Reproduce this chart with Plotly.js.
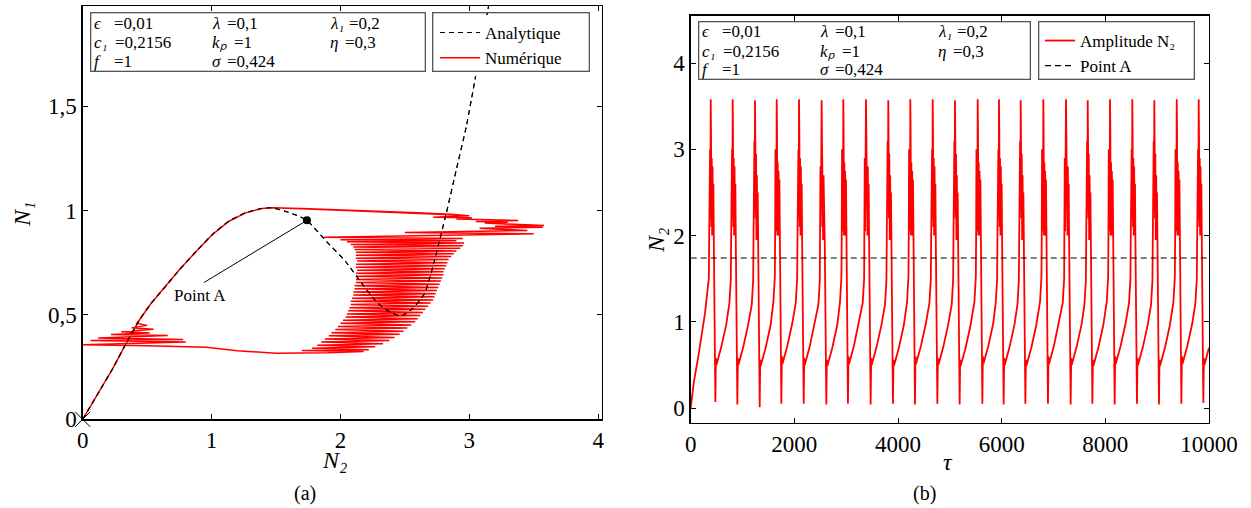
<!DOCTYPE html>
<html>
<head>
<meta charset="utf-8">
<script src="https://cdn.plot.ly/plotly-3.0.1.min.js"></script>
<style>
html,body{margin:0;padding:0;background:#fff;}
#chart{width:1251px;height:508px;}
</style>
</head>
<body>
<div id="chart"></div>
<script>
// ---------- DATA ----------
// (a) analytic curve N1(N2)
const n2Ana = [0, 0.12, 0.234, 0.337, 0.44, 0.53, 0.62, 0.75, 0.88, 1.006, 1.135, 1.264, 1.39, 1.47, 1.57, 1.65, 1.74, 1.88, 2.04, 2.165, 2.29, 2.38, 2.45, 2.49, 2.563, 2.654, 2.718, 2.77, 2.822, 2.899, 2.977, 3.054, 3.15];
const n1Ana = [0, 0.125, 0.244, 0.364, 0.476, 0.555, 0.62, 0.716, 0.804, 0.885, 0.949, 0.989, 1.01, 1.013, 0.997, 0.98, 0.953, 0.86, 0.756, 0.652, 0.556, 0.515, 0.497, 0.5, 0.532, 0.604, 0.732, 0.859, 0.988, 1.195, 1.403, 1.659, 1.98];

// (a) numerical trajectory N1(N2)
const n2Num = [
  0, 0.12, 0.234, 0.337, 0.44, 0.53, 0.62, 0.75, 0.88, 1.006, 1.135, 1.264, 1.39, 1.47,
  1.7, 2.0, 2.3, 2.6, 2.85, 3.0, 2.72, 3.02, 2.9, 3.38, 3.05, 3.3, 3.12, 3.58, 3.2, 3.57, 3.08, 3.45, 2.5, 3.5,
  1.87, 2.95, 2.0, 2.9, 2.05, 2.96, 2.08, 2.95, 2.1, 2.93, 2.11, 2.9, 2.12, 2.88, 2.12, 2.86, 2.12, 2.84, 2.13, 2.83,
  2.12, 2.82, 2.12, 2.81, 2.13, 2.8, 2.12, 2.8, 2.12, 2.79, 2.12, 2.78, 2.12, 2.77, 2.11, 2.76, 2.11, 2.75, 2.1, 2.74,
  2.1, 2.73, 2.09, 2.72, 2.08, 2.7, 2.08, 2.68, 2.07, 2.66, 2.06, 2.64, 2.05, 2.62, 2.04, 2.6, 2.02, 2.58, 2.0, 2.55,
  1.98, 2.52, 1.96, 2.49, 1.93, 2.46, 1.91, 2.42, 1.88, 2.38, 1.85, 2.33, 1.82, 2.27, 1.78, 2.22, 1.7, 2.18,
  1.9, 1.5, 1.2, 0.96, 0.5, 0.0,
  0.8, 0.06, 0.78, 0.12, 0.66, 0.22, 0.52, 0.3, 0.55, 0.38, 0.5, 0.42, 0.44,
  0.53, 0.62, 0.75, 0.88, 1.006, 1.135, 1.264, 1.39, 1.47, 1.8, 2.4, 2.95
];
const n1Num = [
  0, 0.125, 0.244, 0.364, 0.476, 0.555, 0.62, 0.716, 0.804, 0.885, 0.949, 0.989, 1.01, 1.013,
  1.01, 1.004, 0.997, 0.99, 0.982, 0.975, 0.968, 0.965, 0.96, 0.952, 0.948, 0.944, 0.94, 0.928, 0.925, 0.92, 0.915, 0.905, 0.895, 0.889,
  0.872, 0.866, 0.86, 0.855, 0.85, 0.845, 0.838, 0.832, 0.826, 0.82, 0.813, 0.806, 0.8, 0.793, 0.786, 0.78, 0.772, 0.765, 0.758, 0.75,
  0.743, 0.736, 0.729, 0.721, 0.714, 0.707, 0.7, 0.692, 0.685, 0.677, 0.67, 0.662, 0.655, 0.647, 0.64, 0.632, 0.625, 0.617, 0.61, 0.602,
  0.595, 0.587, 0.58, 0.572, 0.565, 0.557, 0.55, 0.542, 0.535, 0.527, 0.52, 0.512, 0.505, 0.497, 0.49, 0.482, 0.475, 0.467, 0.46, 0.452,
  0.445, 0.437, 0.43, 0.422, 0.415, 0.407, 0.4, 0.392, 0.385, 0.377, 0.37, 0.362, 0.355, 0.347, 0.34, 0.333, 0.33, 0.325,
  0.319, 0.317, 0.328, 0.345, 0.352, 0.357,
  0.37, 0.378, 0.382, 0.39, 0.402, 0.406, 0.414, 0.42, 0.432, 0.438, 0.45, 0.46, 0.476,
  0.555, 0.62, 0.716, 0.804, 0.885, 0.949, 0.989, 1.01, 1.013, 1.006, 0.993, 0.978
];

// Point A and the initial point
const pointA_N2 = 1.74, pointA_N1 = 0.953;
const startN2 = [0], startN1 = [0];
const labelA = {n2: 0.913, n1: 0.591, lineN2: 0.94, lineN1: 0.655};

// (b) time series N2(tau)
const tau = [
  0, 60, 147, 276, 330,
  350, 356, 362, 368, 374, 380, 386, 392, 399, 406, 414, 422, 430, 438, 446, 476, 486, 496, 591, 686,
  747, 774, 780, 786, 792, 798, 804, 810, 816, 823, 830, 838, 846, 854, 862, 870, 900, 910, 920, 1015, 1110,
  1178, 1205, 1211, 1217, 1223, 1229, 1235, 1241, 1247, 1254, 1261, 1269, 1277, 1285, 1293, 1301, 1331, 1341, 1351, 1446, 1541,
  1596, 1623, 1629, 1635, 1641, 1647, 1653, 1659, 1665, 1672, 1679, 1687, 1695, 1703, 1711, 1719, 1749, 1759, 1769, 1864, 1959,
  2027, 2054, 2060, 2066, 2072, 2078, 2084, 2090, 2096, 2103, 2110, 2118, 2126, 2134, 2142, 2150, 2180, 2190, 2200, 2295, 2390,
  2464, 2491, 2497, 2503, 2509, 2515, 2521, 2527, 2533, 2540, 2547, 2555, 2563, 2571, 2579, 2587, 2617, 2627, 2637, 2732, 2827,
  2881, 2908, 2914, 2920, 2926, 2932, 2938, 2944, 2950, 2957, 2964, 2972, 2980, 2988, 2996, 3004, 3034, 3044, 3054, 3149, 3244,
  3319, 3346, 3352, 3358, 3364, 3370, 3376, 3382, 3388, 3395, 3402, 3410, 3418, 3426, 3434, 3442, 3472, 3482, 3492, 3587, 3682,
  3749, 3776, 3782, 3788, 3794, 3800, 3806, 3812, 3818, 3825, 3832, 3840, 3848, 3856, 3864, 3872, 3902, 3912, 3922, 4017, 4112,
  4174, 4201, 4207, 4213, 4219, 4225, 4231, 4237, 4243, 4250, 4257, 4265, 4273, 4281, 4289, 4297, 4327, 4337, 4347, 4442, 4537,
  4606, 4633, 4639, 4645, 4651, 4657, 4663, 4669, 4675, 4682, 4689, 4697, 4705, 4713, 4721, 4729, 4759, 4769, 4779, 4874, 4969,
  5036, 5063, 5069, 5075, 5081, 5087, 5093, 5099, 5105, 5112, 5119, 5127, 5135, 5143, 5151, 5159, 5189, 5199, 5209, 5304, 5399,
  5474, 5501, 5507, 5513, 5519, 5525, 5531, 5537, 5543, 5550, 5557, 5565, 5573, 5581, 5589, 5597, 5627, 5637, 5647, 5742, 5837,
  5885, 5912, 5918, 5924, 5930, 5936, 5942, 5948, 5954, 5961, 5968, 5976, 5984, 5992, 6000, 6008, 6038, 6048, 6058, 6153, 6248,
  6304, 6331, 6337, 6343, 6349, 6355, 6361, 6367, 6373, 6380, 6387, 6395, 6403, 6411, 6419, 6427, 6457, 6467, 6477, 6572, 6667,
  6740, 6767, 6773, 6779, 6785, 6791, 6797, 6803, 6809, 6816, 6823, 6831, 6839, 6847, 6855, 6863, 6893, 6903, 6913, 7008, 7103,
  7178, 7205, 7211, 7217, 7223, 7229, 7235, 7241, 7247, 7254, 7261, 7269, 7277, 7285, 7293, 7301, 7331, 7341, 7351, 7446, 7541,
  7597, 7624, 7630, 7636, 7642, 7648, 7654, 7660, 7666, 7673, 7680, 7688, 7696, 7704, 7712, 7720, 7750, 7760, 7770, 7865, 7960,
  8027, 8054, 8060, 8066, 8072, 8078, 8084, 8090, 8096, 8103, 8110, 8118, 8126, 8134, 8142, 8150, 8180, 8190, 8200, 8295, 8390,
  8457, 8484, 8490, 8496, 8502, 8508, 8514, 8520, 8526, 8533, 8540, 8548, 8556, 8564, 8572, 8580, 8610, 8620, 8630, 8725, 8820,
  8882, 8909, 8915, 8921, 8927, 8933, 8939, 8945, 8951, 8958, 8965, 8973, 8981, 8989, 8997, 9005, 9035, 9045, 9055, 9150, 9245,
  9314, 9341, 9347, 9353, 9359, 9365, 9371, 9377, 9383, 9390, 9397, 9405, 9413, 9421, 9429, 9437, 9467, 9477, 9487, 9582, 9677,
  9738, 9765, 9771, 9777, 9783, 9789, 9795, 9801, 9807, 9814, 9821, 9829, 9837, 9845, 9853, 9861, 9891, 9901, 9911, 10000
];
const n2Time = [
  0, 0.3, 0.6, 1.1, 1.4,
  1.5, 1.95, 2.9, 2.05, 3.0, 2.2, 3.58, 3.2, 2.1, 2.9, 2.0, 2.8, 2.05, 2.6, 1.95, 0.07, 0.58, 0.5, 0.71, 0.97,
  1.22, 1.5, 1.95, 2.9, 2.05, 3.0, 2.2, 3.58, 3.2, 2.1, 2.9, 2.0, 2.8, 2.05, 2.6, 1.95, 0.04, 0.58, 0.5, 0.71, 0.97,
  1.2, 1.48, 1.9, 2.8, 2.1, 3.1, 2.3, 3.57, 3.1, 2.2, 2.95, 1.95, 2.7, 2.1, 2.5, 1.9, 0.01, 0.56, 0.49, 0.7, 0.96,
  1.23, 1.52, 2.0, 3.0, 2.15, 2.85, 2.05, 3.58, 3.25, 2.0, 2.85, 2.1, 2.75, 2.0, 2.65, 1.98, 0.05, 0.6, 0.51, 0.72, 0.98,
  1.22, 1.5, 1.95, 2.9, 2.05, 3.0, 2.2, 3.58, 3.2, 2.1, 2.9, 2.0, 2.8, 2.05, 2.6, 1.95, 0.05, 0.58, 0.5, 0.71, 0.97,
  1.2, 1.48, 1.9, 2.8, 2.1, 3.1, 2.3, 3.57, 3.1, 2.2, 2.95, 1.95, 2.7, 2.1, 2.5, 1.9, 0.04, 0.56, 0.49, 0.7, 0.96,
  1.23, 1.52, 2.0, 3.0, 2.15, 2.85, 2.05, 3.58, 3.25, 2.0, 2.85, 2.1, 2.75, 2.0, 2.65, 1.98, 0.05, 0.6, 0.51, 0.72, 0.98,
  1.22, 1.5, 1.95, 2.9, 2.05, 3.0, 2.2, 3.58, 3.2, 2.1, 2.9, 2.0, 2.8, 2.05, 2.6, 1.95, 0.04, 0.58, 0.5, 0.71, 0.97,
  1.2, 1.48, 1.9, 2.8, 2.1, 3.1, 2.3, 3.57, 3.1, 2.2, 2.95, 1.95, 2.7, 2.1, 2.5, 1.9, 0.05, 0.56, 0.49, 0.7, 0.96,
  1.23, 1.52, 2.0, 3.0, 2.15, 2.85, 2.05, 3.58, 3.25, 2.0, 2.85, 2.1, 2.75, 2.0, 2.65, 1.98, 0.04, 0.6, 0.51, 0.72, 0.98,
  1.22, 1.5, 1.95, 2.9, 2.05, 3.0, 2.2, 3.58, 3.2, 2.1, 2.9, 2.0, 2.8, 2.05, 2.6, 1.95, 0.05, 0.58, 0.5, 0.71, 0.97,
  1.2, 1.48, 1.9, 2.8, 2.1, 3.1, 2.3, 3.57, 3.1, 2.2, 2.95, 1.95, 2.7, 2.1, 2.5, 1.9, 0.04, 0.56, 0.49, 0.7, 0.96,
  1.23, 1.52, 2.0, 3.0, 2.15, 2.85, 2.05, 3.58, 3.25, 2.0, 2.85, 2.1, 2.75, 2.0, 2.65, 1.98, 0.05, 0.6, 0.51, 0.72, 0.98,
  1.22, 1.5, 1.95, 2.9, 2.05, 3.0, 2.2, 3.58, 3.2, 2.1, 2.9, 2.0, 2.8, 2.05, 2.6, 1.95, 0.04, 0.58, 0.5, 0.71, 0.97,
  1.2, 1.48, 1.9, 2.8, 2.1, 3.1, 2.3, 3.57, 3.1, 2.2, 2.95, 1.95, 2.7, 2.1, 2.5, 1.9, 0.05, 0.56, 0.49, 0.7, 0.96,
  1.23, 1.52, 2.0, 3.0, 2.15, 2.85, 2.05, 3.58, 3.25, 2.0, 2.85, 2.1, 2.75, 2.0, 2.65, 1.98, 0.05, 0.6, 0.51, 0.72, 0.98,
  1.22, 1.5, 1.95, 2.9, 2.05, 3.0, 2.2, 3.58, 3.2, 2.1, 2.9, 2.0, 2.8, 2.05, 2.6, 1.95, 0.04, 0.58, 0.5, 0.71, 0.97,
  1.2, 1.48, 1.9, 2.8, 2.1, 3.1, 2.3, 3.57, 3.1, 2.2, 2.95, 1.95, 2.7, 2.1, 2.5, 1.9, 0.05, 0.56, 0.49, 0.7, 0.96,
  1.23, 1.52, 2.0, 3.0, 2.15, 2.85, 2.05, 3.58, 3.25, 2.0, 2.85, 2.1, 2.75, 2.0, 2.65, 1.98, 0.04, 0.6, 0.51, 0.72, 0.98,
  1.22, 1.5, 1.95, 2.9, 2.05, 3.0, 2.2, 3.58, 3.2, 2.1, 2.9, 2.0, 2.8, 2.05, 2.6, 1.95, 0.05, 0.58, 0.5, 0.71, 0.97,
  1.2, 1.48, 1.9, 2.8, 2.1, 3.1, 2.3, 3.57, 3.1, 2.2, 2.95, 1.95, 2.7, 2.1, 2.5, 1.9, 0.04, 0.56, 0.49, 0.7, 0.96,
  1.23, 1.52, 2.0, 3.0, 2.15, 2.85, 2.05, 3.58, 3.25, 2.0, 2.85, 2.1, 2.75, 2.0, 2.65, 1.98, 0.05, 0.6, 0.51, 0.72, 0.98,
  1.22, 1.5, 1.95, 2.9, 2.05, 3.0, 2.2, 3.58, 3.2, 2.1, 2.9, 2.0, 2.8, 2.05, 2.6, 1.95, 0.06, 0.58, 0.5, 0.7
];
const tauLine = [0, 10000];

// tick labels
const xTicksA = [0, 1, 2, 3, 4], xTickTextA = ['0', '1', '2', '3', '4'];
const yTicksA = [0, 0.5, 1, 1.5], yTickTextA = ['0', '0,5', '1', '1,5'];
const xTicksB = [0, 2000, 4000, 6000, 8000, 10000], xTickTextB = ['0', '2000', '4000', '6000', '8000', '10000'];
const yTicksB = [0, 1, 2, 3, 4], yTickTextB = ['0', '1', '2', '3', '4'];

// parameter table: symbols (italic) and values
const paramSym = [['ϵ', 'λ', 'λ₁'], ['c₁', 'kₚ', 'η'], ['f', 'σ', '']];
const paramVal = [['=0,01', '=0,1', '=0,2'], ['=0,2156', '=1', '=0,3'], ['=1', '=0,424', '']];

// ---------- LAYOUT ----------
const W = 1251, H = 508;
const PX = x => x / W, PY = y => 1 - y / H;
const SERIF = 'Liberation Serif';

const traces = [
  {x: n2Ana, y: n1Ana, xaxis: 'x', yaxis: 'y', mode: 'lines', name: 'Analytique',
   line: {color: 'black', width: 1.1, dash: '5px,4px', shape: 'spline', smoothing: 0.5}, legend: 'legend'},
  {x: n2Num, y: n1Num, xaxis: 'x', yaxis: 'y', mode: 'lines', name: 'Numérique',
   line: {color: '#ff0000', width: 1.5}, legend: 'legend'},
  {x: n2Ana, y: n1Ana, xaxis: 'x', yaxis: 'y', mode: 'lines', showlegend: false, hoverinfo: 'skip',
   line: {color: 'black', width: 1.1, dash: '5px,4px', shape: 'spline', smoothing: 0.5}},
  {x: [labelA.lineN2, pointA_N2], y: [labelA.lineN1, pointA_N1], xaxis: 'x', yaxis: 'y', mode: 'lines',
   showlegend: false, line: {color: 'black', width: 1}},
  {x: startN2, y: startN1, xaxis: 'x', yaxis: 'y', mode: 'markers', showlegend: false, cliponaxis: false,
   marker: {symbol: 'x-thin-open', size: 15, color: 'black', line: {width: 1, color: 'black'}}},
  {x: [pointA_N2], y: [pointA_N1], xaxis: 'x', yaxis: 'y', mode: 'markers', showlegend: false,
   marker: {symbol: 'circle', size: 8, color: 'black'}},
  {x: tau, y: n2Time, xaxis: 'x2', yaxis: 'y2', mode: 'lines', name: 'Amplitude N₂',
   line: {color: '#ff0000', width: 1.8}, legend: 'legend2'},
  {x: tauLine, y: [pointA_N2, pointA_N2], xaxis: 'x2', yaxis: 'y2', mode: 'lines', name: 'Point A',
   line: {color: 'black', width: 1.2, dash: '6px,4px'}, legend: 'legend2'}
];

const annotations = [];
function box(x0, x1, y0, y1, bg) {
  annotations.push({xref: 'paper', yref: 'paper', x: PX((x0 + x1) / 2), y: PY((y0 + y1) / 2),
    xanchor: 'center', yanchor: 'middle', text: '\u00a0', showarrow: false,
    width: x1 - x0 - 2, height: y1 - y0 - 2, borderpad: 0, borderwidth: 1.3,
    bordercolor: '#555555', bgcolor: bg, font: {family: SERIF, size: 10}});
}
function txt(x, y, text, size, extra) {
  annotations.push(Object.assign({xref: 'paper', yref: 'paper', x: PX(x), y: PY(y), text: text,
    showarrow: false, xanchor: 'center', yanchor: 'middle',
    font: {family: SERIF, size: size, color: 'black'}}, extra || {}));
}
box(90, 425, 12.7, 71.7, 'white');
box(432.7, 590, 12.7, 71.7, 'rgba(0,0,0,0)');
box(698, 1030, 21.7, 80, 'white');
box(1038, 1194, 21.7, 80, 'rgba(0,0,0,0)');

const symX = [92, 210, 328], valX = [[112, 225, 347], [113, 232, 343], [112, 225, 0]];
const rowsA = [23.3, 42.7, 61.7], rowsB = [31.7, 51.7, 70];
const shiftB = 608;
paramSym.forEach((row, r) => row.forEach((s, c) => {
  if (!s) return;
  const ital = {family: SERIF, size: 17, color: 'black', style: 'italic'};
  txt(symX[c], rowsA[r], s, 17, {xanchor: 'left', font: ital});
  txt(symX[c] + shiftB, rowsB[r], s, 17, {xanchor: 'left', font: ital});
  txt(valX[r][c], rowsA[r], paramVal[r][c], 17, {xanchor: 'left'});
  txt(valX[r][c] + shiftB, rowsB[r], paramVal[r][c], 17, {xanchor: 'left'});
}));
const italTitle = {family: SERIF, size: 24, color: 'black', style: 'italic'};
txt(22, 215, 'N₁', 24, {textangle: -90, font: italTitle});
txt(334, 460, 'N₂', 24, {font: italTitle});
txt(656, 241, 'N₂', 24, {textangle: -90, font: italTitle});
txt(948, 462, 'τ', 24, {font: italTitle});
txt(305, 493, '(a)', 20);
txt(924, 493, '(b)', 20);
annotations.push({xref: 'x', yref: 'y', x: labelA.n2, y: labelA.n1, text: 'Point A', showarrow: false,
  xanchor: 'center', yanchor: 'middle', font: {family: SERIF, size: 17, color: 'black'}});

const axisCommon = {
  showline: true, linecolor: 'black', linewidth: 1.3, mirror: 'allticks',
  ticks: 'inside', ticklen: 5, tickwidth: 1, tickcolor: 'black',
  showgrid: false, zeroline: false, tickmode: 'array', fixedrange: true
};

const layout = {
  width: W, height: H, margin: {l: 0, r: 0, t: 0, b: 0},
  font: {family: SERIF, size: 17, color: 'black'},
  showlegend: true,
  xaxis: Object.assign({}, axisCommon, {domain: [PX(82.7), PX(602)], range: [0, 4.03], anchor: 'y',
    tickvals: xTicksA, ticktext: xTickTextA, tickfont: {family: SERIF, size: 23}}),
  yaxis: Object.assign({}, axisCommon, {domain: [PY(419.3), PY(6)], range: [0, 1.98], anchor: 'x',
    tickvals: yTicksA, ticktext: yTickTextA, tickfont: {family: SERIF, size: 23}}),
  xaxis2: Object.assign({}, axisCommon, {domain: [PX(690.7), PX(1209)], range: [0, 10000], anchor: 'y2',
    tickvals: xTicksB, ticktext: xTickTextB, tickfont: {family: SERIF, size: 23}}),
  yaxis2: Object.assign({}, axisCommon, {domain: [PY(422.7), PY(15.7)], range: [-0.17, 4.55], anchor: 'x2',
    tickvals: yTicksB, ticktext: yTickTextB, tickfont: {family: SERIF, size: 23}}),
  legend: {x: PX(435), y: PY(15), xanchor: 'left', yanchor: 'top', bgcolor: 'white', borderwidth: 0,
    font: {family: SERIF, size: 17}, itemwidth: 40, tracegroupgap: 0, traceorder: 'normal'},
  legend2: {x: PX(1040), y: PY(23), xanchor: 'left', yanchor: 'top', bgcolor: 'white', borderwidth: 0,
    font: {family: SERIF, size: 17}, itemwidth: 30, tracegroupgap: 0, traceorder: 'normal'},
  annotations: annotations
};

Plotly.newPlot('chart', traces, layout, {displayModeBar: false, staticPlot: true});
</script>
</body>
</html>
